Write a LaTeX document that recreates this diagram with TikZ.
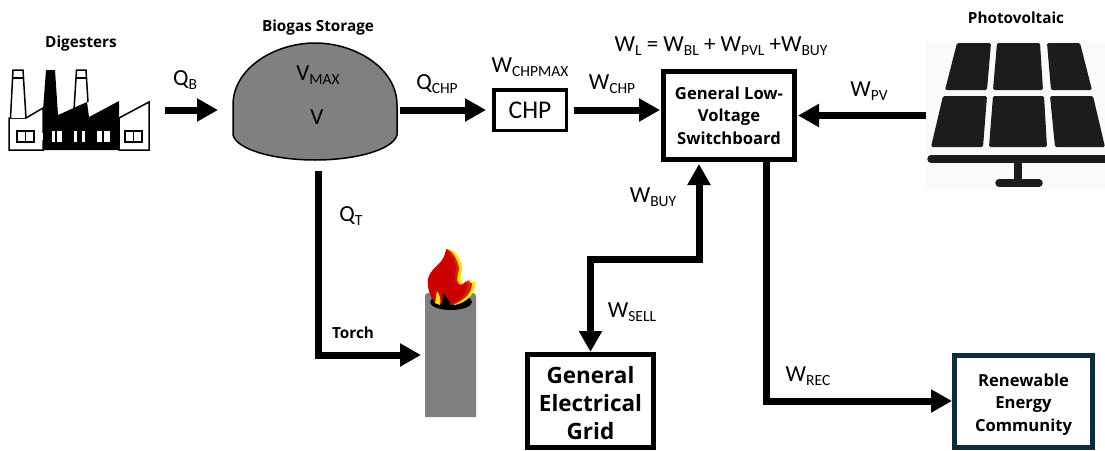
\documentclass[tikz,border=0pt]{standalone}
\usepackage{fontspec}
\setmainfont{Carlito}
\newfontfamily\boldlab{Open Sans}[Scale=1.0]
\usetikzlibrary{arrows.meta}
\definecolor{recnavy}{HTML}{0E2A3F}
\definecolor{pvdark}{HTML}{1C1C1C}
\newcommand{\qty}[2]{#1\raisebox{-4.5pt}{\fontsize{15.5}{15.5}\selectfont #2}}
\tikzset{
  flow/.style={line width=7pt, line join=miter, -{Triangle[length=21pt,width=22pt]}},
  qtylabel/.style={font=\fontsize{23}{25}\selectfont, inner sep=0},
  iconlabel/.style={font=\boldlab\bfseries\fontsize{15.3}{17}\selectfont, inner sep=0},
  boxlabel/.style={font=\boldlab\bfseries\fontsize{16.6}{22.5}\selectfont, align=center, inner sep=0},
  iconarea/.style={inner sep=0, outer sep=0},
}
\begin{document}
\begin{tikzpicture}[x=1pt,y=-1pt]
\useasboundingbox (0,0) rectangle (1105,450);

\node[iconarea, minimum width=141, minimum height=80] (digesters) at (79.5,110) {};
\node[iconarea, minimum width=164, minimum height=117] (storage) at (315,101.5) {};
\node[iconarea, fill=black!2, minimum width=179, minimum height=149] (pv) at (1015.5,115.5) {};
\node[iconarea, minimum width=51, minimum height=124] (torch) at (450.5,355) {};
\fill[black!50] (torch.south west) [rounded corners=3] -- (torch.north west) -- (torch.north east) [sharp corners] -- (torch.south east) -- cycle;

% factory
\filldraw[black, fill=white, line width=1.5pt] (9,150)--(9,118)--(26,118)--(43,108)--(43,150)--cycle;
\filldraw[black, fill=white, line width=1.5pt] (10.5,118)--(13,70)--(23,70)--(26,118);
\draw[black, line width=1.5pt] (12.5,78)--(23.5,78);
\filldraw[black, fill=white, line width=1.5pt] (74,110)--(76.5,70)--(86,70)--(88,102);
\draw[black, line width=1.5pt] (76,78)--(86.5,78);
\filldraw[black, fill=white, line width=1.5pt] (119,118)--(149,102)--(149,150)--(119,150)--cycle;
\fill[black] (43,150)--(43,110)--(46,70)--(55,70)--(58,115)--(87,102)--(89,117)--(119,101)--(119,150)--cycle;
\foreach \x in {17,125} {
  \draw[black, line width=1.5pt] (\x,131) rectangle ++(17,11);
  \draw[black, line width=1.5pt] (\x+8.5,131)--++(0,11);
}
\fill[white] (40,133) rectangle (43,140);
\foreach \x/\w in {52/3,57/5,74/3,82/3,97/5,104/6} {
  \fill[white] (\x,131) rectangle ++(\w,11);
}

% dome
\filldraw[black, fill=black!50, line width=1.5pt] (233,135)--(233,105)
  .. controls (233,68) and (275,43) .. (315,43)
  .. controls (355,43) and (397,68) .. (397,105)--(397,135)
  .. controls (393,150) and (355,160) .. (315,160)
  .. controls (275,160) and (237,150) .. (233,135)--cycle;

% panels
\begin{scope}[fill=pvdark, rounded corners=1.5]
\fill (957,43)--(991,43)--(987,90)--(945,90)--cycle;
\fill (997,43)--(1040,43)--(1043,90)--(993,90)--cycle;
\fill (1047,43)--(1080,43)--(1092,90)--(1051,90)--cycle;
\fill (943,96)--(987,96)--(983,147)--(931,147)--cycle;
\fill (993,96)--(1044,96)--(1047,147)--(989,147)--cycle;
\fill (1050,96)--(1093,96)--(1105,147)--(1055,147)--cycle;
\end{scope}
\draw[pvdark, line width=7.5pt, line cap=round] (931,159)--(1105,159);
\draw[pvdark, line width=7.5pt] (1018,160)--(1018,183);
\draw[pvdark, line width=7.5pt, line cap=round] (999,183)--(1039,183);

% flame
\fill[black] (451,302) ellipse (21 and 8);
\fill[yellow!85!orange] (447,249)..controls (454,250) and (460,256)..(462,268)..controls (463,274) and (458,278)..(462,283)
  ..controls (465,284) and (468,283)..(470,279)--(472,283)--(475,281)..controls (476,292) and (470,301)..(455,305)--(440,296)--cycle;
\fill[red!70!orange!85!black] (447,249)..controls (452,251) and (457,258)..(459,268)..controls (459,274) and (455,279)..(459,284)
  ..controls (462,286) and (466,284)..(468,280)--(470,283)--(472,283)..controls (472,292) and (466,300)..(452,305)--(440,296)--cycle;
\fill[red!80!black] (446.5,249)..controls (449,253) and (455,260)..(456,268)..controls (456,274) and (452,281)..(458,285)
  ..controls (461,286) and (464,284)..(466,281)..controls (469,290) and (463,300)..(452,304)
  ..controls (447,305) and (441,305)..(436,303)..controls (430,298) and (427,288)..(428,279)
  ..controls (430,270) and (438,266)..(442,260)..controls (445,256) and (445,252)..(446.5,249)--cycle;
\fill[yellow!85!orange] (437,291)..controls (440,295) and (441,300)..(440,305)--(435,303)..controls (436,299) and (436,295)..(437,291)--cycle;
\fill[black] (441,306)..controls (443,300) and (443,296)..(443,293)..controls (446,296) and (448,300)..(450,302)--(449,306)--cycle;

% boxes
\node[draw=black, line width=3.5pt, minimum width=72.5, minimum height=40.5, inner sep=0,
  font=\fontsize{25.5}{27}\selectfont] (chp) at (530,110) {CHP};
\node[draw=black, line width=5pt, minimum width=131, minimum height=88, inner sep=0, boxlabel] (board) at (729,115.5)
  {General Low-\\Voltage\\Switchboard};
\node[draw=black, line width=5pt, minimum width=126, minimum height=93, inner sep=0, boxlabel,
  font=\boldlab\bfseries\fontsize{22.5}{28}\selectfont] (grid) at (590.5,401) {\rule{0pt}{21pt}General\\Electrical\\Grid};
\node[draw=recnavy, line width=5pt, minimum width=138, minimum height=92, inner sep=0, boxlabel] (rec) at (1023.5,401)
  {\rule{0pt}{19pt}Renewable\\Energy\\Community};

% connectors
\coordinate (busbar) at (645,259);
\draw[flow, shorten <=15pt, shorten >=15pt] (digesters.east)--(digesters.east -| storage.west);
\draw[flow, shorten <=3pt, shorten >=6pt] (storage.east |- chp.west)--(chp.west);
\draw[flow, shorten <=6pt, shorten >=1pt] (chp.east)--(chp.east -| board.west);
\draw[flow, shorten >=1pt] (pv.west)--(board.east);
\draw[flow, shorten <=11pt, shorten >=4pt] ([xshift=3pt]storage.south) |- (torch.west);
\draw[flow, {Triangle[length=21pt,width=22pt]}-{Triangle[length=21pt,width=22pt]}, shorten <=2pt]
  ([xshift=-30pt]board.south) |- (busbar) -| (grid.north);
\draw[flow] ([xshift=37pt]board.south) |- (rec.west);

% labels
\node[iconlabel] (digesterslabel) at (81,44) {Digesters};
\node[iconlabel] (storagelabel) at (318,28) {Biogas Storage};
\node[iconlabel] (pvlabel) at (1016,18) {Photovoltaic};
\node[iconlabel] (torchlabel) at (353,333) {Torch};
\node[qtylabel] (qb) at (185,80) {\qty{Q}{B}};
\node[qtylabel] (vmax) at (318,75) {\qty{V}{MAX}};
\node[qtylabel] (v) at (317,117) {V};
\node[qtylabel] (qchp) at (437,84) {\qty{Q}{CHP}};
\node[qtylabel] (wchpmax) at (530,67) {\qty{W}{CHPMAX}};
\node[qtylabel] (wchp) at (612,84) {\qty{W}{CHP}};
\node[qtylabel] (wl) at (721,46) {\qty{W}{L} = \qty{W}{BL} + \qty{W}{PVL} +\qty{W}{BUY}};
\node[qtylabel] (wpv) at (869,91) {\qty{W}{PV}};
\node[qtylabel] (wbuy) at (653,197) {\qty{W}{BUY}};
\node[qtylabel] (qt) at (351,216) {\qty{Q}{T}};
\node[qtylabel] (wsell) at (632,312) {\qty{W}{SELL}};
\node[qtylabel] (wrec) at (808,376) {\qty{W}{REC}};
\end{tikzpicture}
\end{document}
